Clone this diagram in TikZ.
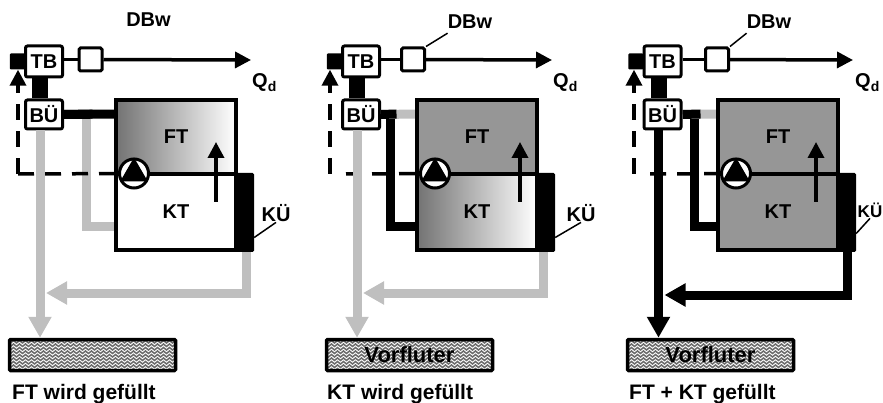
\documentclass[tikz,border=0pt]{standalone}
\usepackage{fontspec}
\setmainfont{Liberation Sans}
\usetikzlibrary{arrows.meta,positioning,patterns}
\definecolor{lgray}{gray}{0.75}
\definecolor{tgray}{gray}{0.59}
\pgfdeclarepatternformonly{wavelines}{\pgfqpoint{-1pt}{-1pt}}{\pgfqpoint{7pt}{4.5pt}}{\pgfqpoint{6pt}{3.5pt}}{
	\pgfsetlinewidth{1.5pt}
	\pgfpathmoveto{\pgfqpoint{0pt}{1.75pt}}
	\pgfpathcurveto{\pgfqpoint{1.5pt}{3.4pt}}{\pgfqpoint{1.5pt}{3.4pt}}{\pgfqpoint{3pt}{1.75pt}}
	\pgfpathcurveto{\pgfqpoint{4.5pt}{0.1pt}}{\pgfqpoint{4.5pt}{0.1pt}}{\pgfqpoint{6pt}{1.75pt}}
	\pgfusepath{stroke}
}
\tikzset{
	lbl/.style={font=\fontsize{20}{20}\selectfont\bfseries,inner sep=0pt},
	caption/.style={font=\fontsize{21}{21}\selectfont\bfseries,inner sep=0pt,anchor=base west},
	ctrl/.style={draw,line width=3pt,rounded corners=2pt,fill=white,minimum width=37pt,lbl},
	valvebox/.style={draw,line width=3pt,rounded corners=1.5pt,fill=white,minimum width=23pt,minimum height=23pt,inner sep=0pt},
	blockbox/.style={fill=black,rounded corners=1pt,minimum width=15pt,minimum height=16pt,inner sep=0pt},
	tank/.style={draw,line width=3.5pt,minimum width=120pt,lbl},
	gradtank/.style={left color=black!55,right color=white},
	greytank/.style={fill=tgray},
	plaintank/.style={fill=white},
	overflow/.style={fill=black,rounded corners=1.5pt,minimum width=18pt,minimum height=79pt,inner sep=0pt},
	pump/.style={draw,circle,line width=3pt,fill=white,minimum size=29pt,inner sep=0pt},
	outfall/.style={draw,line width=3.5pt,rounded corners=1pt,minimum width=166pt,minimum height=31pt,inner sep=0pt,
		preaction={fill=white},pattern=wavelines,pattern color=black!58},
	pipe/.style={line width=9pt},
	gripe/.style={pipe,-{Triangle[length=21pt,width=22pt]}},
	signal/.style={line width=3.5pt,-{Triangle[length=16pt,width=16pt]}}
}
\begin{document}
\begin{tikzpicture}[x=1pt,y=-1pt]
	\useasboundingbox (0,0) rectangle (883,403);

	\foreach \p/\xl/\xh/\dph/\xt/\xb/\xk/\xu/\xw/\xo/\yo/\xf/\ft/\kt/\cr/\cw/\cv in {
		1/18/18/8/44/90.5/116/216/86.5/246/293/92.5/gradtank/plaintank/black/lgray/lgray,
		2/330/346/7/361/413/417/520/390.5/543/293/409.5/greytank/gradtank/lgray/black/lgray,
		3/634/649/11/662.5/717/718/816/694.5/847/295/710.5/greytank/greytank/lgray/black/black}
	{
		\node[ctrl,minimum height=31pt] (tb\p) at (\xt,61.5) {TB};
		\node[ctrl,minimum height=29pt] (bu\p) [below=20pt of tb\p] {BÜ};
		\node[blockbox] (sq\p) [left=-1pt of tb\p] {};
		\node[valvebox] (vb\p) at (\xb,59.5) {};
		\node[outfall] (vf\p) at (\xf,355) {};

		\coordinate (tip\p) at (\xk+135,60);
		\coordinate (sp\p) at (\xw,114);
		\coordinate (lw\p) at (\xw,227);
		\coordinate (cn\p) at (\xl,174);
		\coordinate (hz\p) at (\xh,174);
		\coordinate (ou\p) at (\xo,\yo);

		% pipes behind the tank
		\draw[pipe,color=\cw] (sp\p) -- (lw\p) -- (\xk,227);
		\draw[pipe,color=\cr] (bu\p.east) -- (\xk,114);
		\draw[pipe] (bu\p.east) -- ([xshift=6pt]sp\p);
		\draw[pipe,line width=16pt] ([xshift=-4pt]tb\p.south) -- ([xshift=-4pt]bu\p.north);

		\node[tank,\ft,minimum height=74pt] (ft\p) at (\xk+60,137) {FT};
		\node[tank,\kt,minimum height=76pt] (kt\p) at (\xk+60,212) {KT};
		\node[overflow] (ku\p) at (\xk+129,212.5) {};
		\coordinate (pc\p) at (\xk+18,173.5);

		\draw[line width=3pt] (vb\p.west -| tb\p.east) -- (vb\p.west);
		\draw[line width=3.5pt,-{Triangle[length=16pt,width=16pt]}] (vb\p) -- (tip\p);
		\draw[line width=3.5pt] (pc\p) -- (ku\p.west |- pc\p);
		\draw[line width=3.5pt,dash pattern=on 16pt off 11pt,dash phase=\dph pt] (pc\p) -- (hz\p);
		\draw[signal,dash pattern=on 16pt off 11pt] (cn\p) -- (cn\p |- sq\p.south);
		\draw[signal] (\xu,202) -- (\xu,142);

		\node[pump] (pu\p) at (pc\p) {};
		\fill (pu\p.90) -- (pu\p.210) -- (pu\p.330) -- cycle;

		% the two ways out
		\draw[gripe,color=\cv] ([xshift=-4pt]bu\p.south) -- ([xshift=-4pt]bu\p.south |- vf\p.north);
		\draw[pipe,color=\cv] (ku\p.south -| ou\p) -- (ou\p);
		\draw[gripe,color=\cv] ([xshift=4.5pt]ou\p) -- ([xshift=2pt]bu\p.south |- ou\p);
	}

	\node[lbl,anchor=base] (dbw1) at (148.5,27) {DBw};
	\node[lbl,anchor=base] (dbw2) at (470,29) {DBw};
	\node[lbl,anchor=base] (dbw3) at (769,29) {DBw};
	\draw[line width=1.5pt] (vb2.north east) -- ([yshift=-4pt]dbw2.south west);
	\draw[line width=1.5pt] (vb3.north east) -- ([yshift=-4pt]dbw3.south west);

	\node[lbl,anchor=base west] (qd1) at (252,88) {Q\textsubscript{d}};
	\node[lbl,anchor=base west] (qd2) at (553,88) {Q\textsubscript{d}};
	\node[lbl,anchor=base west] (qd3) at (855,88) {Q\textsubscript{d}};

	\node[lbl,anchor=base] (kl1) at (276,222) {KÜ};
	\node[lbl,anchor=base] (kl2) at (581,222) {KÜ};
	\node[lbl,anchor=base,font=\fontsize{17}{17}\selectfont\bfseries] (kl3) at (870,218) {KÜ};
	\draw[line width=1.5pt] ([yshift=-25pt]ku1.east) -- (kl1.south);
	\draw[line width=1.5pt] ([yshift=-25pt]ku2.east) -- (kl2.south);
	\draw[line width=1.5pt] ([yshift=-21pt]ku3.east) -- (kl3.south);

	\node[lbl] (vt2) at (vf2) {\fontsize{22}{22}\selectfont Vorfluter};
	\node[lbl] (vt3) at (vf3) {\fontsize{22}{22}\selectfont Vorfluter};

	\node[caption] (cap1) at (12,399) {FT wird gefüllt};
	\node[caption] (cap2) at (327,399) {KT wird gefüllt};
	\node[caption] (cap3) at (629,399) {FT + KT gefüllt};
\end{tikzpicture}
\end{document}
